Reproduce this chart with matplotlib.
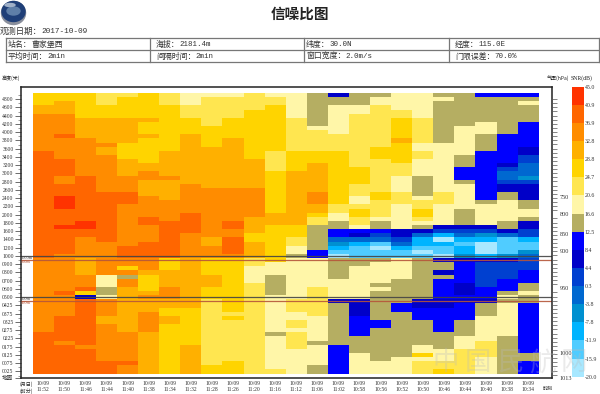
import numpy as np
import matplotlib
matplotlib.use('Agg')
import matplotlib.pyplot as plt
from matplotlib.colors import ListedColormap, BoundaryNorm
from matplotlib.patches import Ellipse

CJK = ['Noto Sans CJK SC', 'DejaVu Sans']
SERIF = ['Liberation Serif', 'Noto Sans CJK SC']
MONO = ['Liberation Mono', 'Noto Sans CJK SC']

# colour bar, bottom to top
snr_levels = [-20.0, -15.9, -11.9, -7.8, -3.8, 0.3, 4.4, 8.4, 12.5, 16.6, 20.6, 24.7, 28.8, 32.8, 36.9, 40.9, 45.0]
snr_colors = ['#a8e8ff', '#50ccff', '#00b4ff', '#0090d0', '#0068d0', '#0040d0', '#0000c8', '#0000ff',
              '#b5ae62', '#fff6a8', '#ffe650', '#ffd400', '#ffb000', '#ff8c00', '#ff6600', '#ff3300']
# letter = colour band, a is the strongest SNR band, p the weakest
snr_codes = 'ponmlkjihgfedcba'

times = ['11:52', '11:50', '11:46', '11:44', '11:40', '11:38', '11:34', '11:32', '11:28', '11:26', '11:20', '11:16',
         '11:12', '11:06', '11:02', '10:58', '10:56', '10:52', '10:50', '10:46', '10:44', '10:40', '10:38', '10:34']

# one string per time, runs of band+count from the top of the plot down
snr_runs = [
    'e3 d2 c9 b26 c18 b10',
    'e2 d3 c5 b1 c5 b4 c2 b3 a3 b4 a1 b6 c9 b1 c5 b6 c1 b7',
    'e6 d5 c9 b11 a2 b2 c5 d4 c3 b1 e1 j1 b11 c1 b6',
    'f3 e3 d6 c1 d2 c9 b12 c8 g3 h2 g1 c4 d2 c9 b3',
    'f1 e5 d6 e4 d4 c4 b3 c10 b3 c2 e1 c1 h1 c2 d11 c7 b1 c2',
    'e6 d1 e3 d1 e6 d2 c2 d4 c5 b2 c4 b4 c3 d1 e4 d1 c1 d3 c5 d10',
    'f3 e11 d6 c1 d5 c5 b9 e3 d4 c3 d2 e2 d2 e12',
    'g3 f3 e4 d12 c7 b5 c6 d12 e9 d7',
    'g1 f7 e5 d10 c12 d2 c3 e4 d3 e3 f16 e2',
    'g1 f5 e5 d12 c8 b2 c2 b4 c1 e13 f1 e1 f10 e3',
    'f4 e12 d7 c7 d4 e2 d4 f2 g4 f22',
    'g1 f2 e11 f5 e10 d3 e9 g3 h5 g9 h1 g8 f1',
    'g6 f8 e5 d13 e3 f2 g2 h1 g10 f3 g2 f2 g1 f4 g6',
    'h8 g1 f5 e3 d7 c3 d2 e1 f2 h6 i2 g7 f7 g6 h1 g5 h2',
    'j1 h2 g7 f4 e13 f2 g2 h2 i2 l1 m1 n1 o1 p1 h5 g5 j1 h10 i7',
    'h3 g2 f13 e4 f3 g2 f1 e2 f2 g1 i1 j1 l1 n1 o3 h2 g8 j4 i5 h4 g5',
    'h1 g2 f10 e3 f8 e2 f4 g1 h2 i1 k1 l1 o1 p1 o2 h1 g5 h1 g1 h7 i2 h8 g3',
    'g4 f2 e5 d1 e5 f3 g4 f3 g6 j2 k1 l1 n1 o2 g5 h6 i2 h11 g4',
    'g6 f6 g2 f2 g4 h5 g1 f2 e2 f1 g1 h1 j1 l1 n2 o1 p1 o1 h10 j2 i3 h6 g2 e1 g1 f3',
    'h1 g1 h10 g12 f3 g5 j1 k1 n1 p1 n1 o2 p1 j1 h2 j1 h1 i5 j2 i6 h4 g3 f2 e1',
    'h8 g7 h3 i3 h1 g6 h4 j1 k1 l1 n1 o1 n2 m1 j1 i5 j3 i1 j1 i4 h4 g3 f6',
    'i1 h6 g3 h4 i12 h1 g5 j1 k1 m1 n1 p3 n1 j1 k6 i3 j1 h3 g6 f4 g4',
    'i1 h9 i7 j1 k1 l2 k1 j2 h2 g5 h2 j1 l1 o4 m1 j1 k4 i3 h1 g1 h1 g8 h9',
    'i1 h1 g1 h4 i6 j2 k2 l3 m1 k1 j4 h2 g2 h1 j2 k2 n1 o2 m1 l1 k3 i3 h2 g1 h2 i12 h2 i3',
]

height_labels = ['%d' % h for h in range(4800, 900, -200)] + ['0900', '0800', '0700', '0600', '0500'] + \
                ['0425', '0375', '0325', '0275', '0225', '0175', '0125', '0075', '0025', '地面']
pressure_labels = ['750', '800', '850', '900', '950', '1000', '1013']
pressure_rows = [25.4, 29.5, 34.4, 38.3, 47.5, 63.3, 69.3]
line_rows = [39.5, 40.4, 49.4, 50.4]
line_names = ['1000m', '900m', '500m', '950m']
line_colors = ['#444444', '#b5563a', '#444444', '#b5563a']

info_rows = [
    [('站名：', '曹家堡西'), ('海拔：', '2181.4m'), ('纬度：', '30.0N'), ('经度：', '115.0E')],
    [('平均时间：', '2min'), ('间隔时间：', '2min'), ('窗口宽度：', '2.0m/s'), ('门限误差：', '70.0%')],
]


def band_value(code):
    i = snr_codes.index(code)
    return (snr_levels[i] + snr_levels[i + 1]) / 2


snr = []
for runs in snr_runs:
    col = []
    for run in runs.split():
        col += [band_value(run[0])] * int(run[1:])
    snr.append(col)
snr = np.array(snr).T

W, H = 600, 394
fig = plt.figure(figsize=(W / 100, H / 100), dpi=100)


def px_axes(x0, y0, x1, y1, **kw):
    return fig.add_axes([x0 / W, 1 - y1 / H, (x1 - x0) / W, (y1 - y0) / H], **kw)


page = fig.add_axes([0, 0, 1, 1], zorder=0)
page.set_xlim(0, W)
page.set_ylim(H, 0)
page.axis('off')

# logo
page.add_patch(Ellipse((13.5, 13), 24, 23, color='#8a8f9c'))
page.add_patch(Ellipse((13.5, 11.5), 23, 20, color='#1f3f78'))
page.add_patch(Ellipse((13.5, 11), 13, 8, color='#5f7fa8'))
page.add_patch(Ellipse((10, 5), 10, 3, color='#9fb0c8'))

page.text(300, 14, '信噪比图', family=CJK, fontsize=10.5, fontweight='bold', ha='center', va='center', color='#222222')
page.text(0, 31, '观测日期：', family=CJK, fontsize=6, va='center', color='#333333')
page.text(41, 31, '2017-10-09', family=MONO, fontsize=5.6, va='center', color='#333333')

# info table
for y in [38, 50, 62]:
    page.plot([6, 599], [y, y], color='#777777', lw=0.9)
for x in [6, 150, 304, 449, 599]:
    page.plot([x, x], [38, 62], color='#777777', lw=0.9)
cell_x = [7.5, 156, 306, 455]
for row, y in zip(info_rows, [44.5, 56.5]):
    for (name, value), x in zip(row, cell_x):
        page.text(x, y, name, family=CJK, fontsize=5.7, va='center', color='#333333')
        vx = x + len(name) * 7.9
        if name == '站名：':
            page.text(vx, y, value, family=CJK, fontsize=5.7, va='center', color='#333333')
        else:
            page.text(vx, y, value, family=MONO, fontsize=5.4, va='center', color='#333333')

page.text(2, 78, '高度(米)', family=CJK, fontsize=3.6, va='center', color='#222222')
page.text(547, 78, '气压(hPa)', family=CJK, fontsize=3.6, va='center', color='#222222')
page.text(571, 78, 'SNR(dB)', family=SERIF, fontsize=4.2, va='center', color='#222222')
page.text(20, 384, '(月日)', family=CJK, fontsize=3.6, va='center', color='#222222')
page.text(20, 391, '(时分)', family=CJK, fontsize=3.6, va='center', color='#222222')
page.text(543, 388, '时刻', family=CJK, fontsize=3.6, va='center', color='#222222')

# main plot, rows are 4.125 px and columns 21.1 px
ax = px_axes(20.5, 86.5, 551.5, 378, zorder=1)
cmap = ListedColormap(snr_colors)
norm = BoundaryNorm(snr_levels, cmap.N)
x_edges = np.arange(len(times) + 1)
y_edges = np.arange(snr.shape[0] + 1)
mesh = ax.pcolormesh(x_edges, y_edges, snr, cmap=cmap, norm=norm, antialiased=False, linewidth=0)
ax.set_xlim(-12.2 / 21.1, len(times) + 12.8 / 21.1)
ax.set_ylim(285 / 4.125, -6.5 / 4.125)

for s in ax.spines.values():
    s.set_linewidth(1.1)
    s.set_color('#222222')

height_rows = [1.5 + 2 * i for i in range(len(height_labels) - 1)] + [69.0]
ax.set_yticks(height_rows)
ax.set_yticklabels(height_labels, family=SERIF, fontsize=4.1, color='#333333')
ax.set_yticks(np.arange(0.5, 69, 1), minor=True)
ax.tick_params(axis='y', which='major', length=4, width=0.5, pad=1, color='#333333')
ax.tick_params(axis='y', which='minor', length=2, width=0.4, color='#555555')

ax.set_xticks(np.arange(len(times)) + 0.5)
ax.set_xticklabels(['10/09\n' + t for t in times], family=SERIF, fontsize=4.1, linespacing=1.15, color='#333333')
ax.tick_params(axis='x', length=0, pad=2.2)

for row, name, color in zip(line_rows, line_names, line_colors):
    ax.axhline(row, color=color, lw=0.9, alpha=0.9)
    ax.text(-0.57, row + 0.55, name, family=SERIF, fontsize=3.2, va='center', color=color)

# pressure scale on the right
right = ax.twinx()
right.set_ylim(ax.get_ylim())
right.set_yticks(pressure_rows)
right.set_yticklabels(pressure_labels, family=SERIF, fontsize=4.4, color='#333333')
right.set_yticks(np.arange(1.5, 69, 1), minor=True)
right.tick_params(axis='y', which='major', length=0, pad=6)
right.tick_params(axis='y', which='minor', length=3.5, width=0.5, color='#555555')
for s in right.spines.values():
    s.set_visible(False)

# colour bar
cax = px_axes(571.7, 86.7, 583.7, 376.7, zorder=1)
cb = fig.colorbar(mesh, cax=cax, ticks=snr_levels, spacing='uniform', drawedges=False)
cb.ax.set_yticklabels(['%.1f' % v for v in snr_levels], family=SERIF, fontsize=4.2, color='#333333')
cb.ax.tick_params(length=0, pad=0.6)
cb.outline.set_visible(False)

# watermark over everything
over = fig.add_axes([0, 0, 1, 1], zorder=5)
over.set_xlim(0, W)
over.set_ylim(H, 0)
over.axis('off')
over.patch.set_alpha(0)
for i, ch in enumerate('中国民航网'):
    over.text(446 + i * 32, 363, ch, family=CJK, fontsize=19, ha='center', va='center', color='#bbbbbb', alpha=0.3)

fig.savefig('out.png', dpi=100)
